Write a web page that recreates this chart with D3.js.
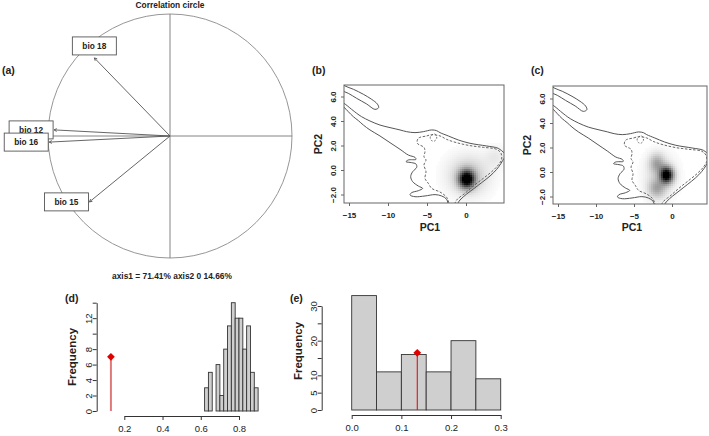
<!DOCTYPE html>
<html><head><meta charset="utf-8">
<script src="https://cdn.jsdelivr.net/npm/d3@7"></script>
<style>
body{margin:0;background:#fff}
svg{display:block}
text{font-family:"Liberation Sans",Arial,sans-serif}
</style>
</head><body><svg id="c" width="709" height="436"></svg>
<script>
// ---------------- DATA ----------------
// (a) correlation circle
const corVars = ["bio 18", "bio 12", "bio 16", "bio 15"];
const corX = [-0.62, -0.95, -0.99, -0.66];
const corY = [0.64, 0.05, -0.05, -0.54];
const corTitle = "Correlation circle";
const corAxisText = "axis1 = 71.41%  axis2 0 14.66%";

// (b),(c) environmental space contours (PC1, PC2)
const outerX = [-16.15,-15.64,-14.66,-14.02,-13.38,-12.31,-11.03,-9.74,-8.46,-7.61,-6.54,-5.47,-4.40,-3.76,-3.33,-2.27,-0.98,0.51,2.65,4.14,4.87,5.3,4.87,4.49,3.93,3.08,2.01,0.94,0.09,-0.77,-1.41,-2.14,-2.48,-3.12,-3.97,-5.26,-6.54,-7.18,-6.97,-6.11,-5.56,-6.11,-6.84,-7.09,-6.84,-6.32,-6.41,-6.97,-7.69,-7.39,-6.41,-6.54,-7.39,-8.46,-9.74,-11.03,-12.31,-13.16,-13.80,-14.44,-15.09,-15.64,-16.15];
const outerY = [5.58,5.44,4.95,4.63,4.35,4.00,3.67,3.46,3.27,3.13,3.05,3.13,3.27,3.21,3.05,2.78,2.45,2.18,1.96,1.77,1.41,1.2,0.95,0.54,0.05,-0.49,-1.03,-1.55,-1.96,-2.45,-2.99,-2.99,-2.39,-2.12,-2.01,-2.12,-2.18,-2.04,-1.85,-1.69,-1.50,-1.31,-0.95,-0.54,-0.14,0.22,0.49,0.60,0.68,0.82,0.87,1.03,1.22,1.69,2.23,2.78,3.27,3.67,4.03,4.35,4.76,5.12,5.30];
const loopX = [-16.3,-15.51,-14.44,-13.16,-12.10,-11.37,-11.20,-11.67,-12.74,-14.02,-15.09,-15.94,-16.3];
const loopY = [7.2,6.86,6.59,6.18,5.77,5.39,5.09,4.95,5.39,5.85,6.26,6.48,6.6];
const innerX = [-6.11,-5.04,-4.40,-3.33,-2.48,-1.20,0.51,2.22,3.93,4.49,4.57,4.14,3.29,2.22,0.94,-0.13,-1.20,-1.63,-1.97,-2.48,-3.33,-4.40,-4.83,-5.26,-5.13,-5.39,-5.13,-5.39,-5.26,-5.39,-6.24];
const innerY = [2.59,2.78,2.88,2.78,2.50,2.23,1.99,1.85,1.69,1.36,0.87,0.41,-0.14,-0.68,-1.31,-1.90,-2.45,-2.99,-2.99,-2.23,-1.80,-1.50,-1.09,-0.68,-0.14,0.41,0.82,1.09,1.50,1.85,2.18];
// small dashed island
const islandX = [-4.55,-4.0,-3.75,-4.1,-4.5];
const islandY = [2.75,2.95,2.6,2.35,2.45];
const pcXTicks = [-15, -10, -5, 0];
const pcYTicks = [-2, 0, 2, 4, 6];
// density kernels (centre x, centre y, spread x, spread y, weight)
const bBlobX = [0.1, 0.3, 3.8];
const bBlobY = [-0.75, -0.45, 1.1];
const bBlobSX = [0.7, 1.8, 0.9];
const bBlobSY = [0.5, 1.1, 0.6];
const bBlobW = [1.05, 0.22, 0.08];
const cBlobX = [-0.7, -2.0, -2.0, -1.5];
const cBlobY = [-0.25, 0.7, -1.35, -0.3];
const cBlobSX = [0.6, 0.7, 0.8, 1.5];
const cBlobSY = [0.45, 0.55, 0.55, 1.2];
const cBlobW = [1.05, 0.3, 0.3, 0.12];

// (d) histogram
const dBreaks = [0.62,0.64,0.66,0.68,0.70,0.72,0.74,0.76,0.78,0.80,0.82,0.84,0.86,0.88,0.90];
const dCounts = [3,5,0,6,2,8,11,14,12,12,8,11,5,3];
const dObs = 0.13, dObsH = 7;
const dXTicks = [0.2, 0.4, 0.6, 0.8];
const dYTicks = [0,2,4,6,8,10,12,14];
const dYLabels = [0,2,4,6,8,12];

// (e) histogram
const eBreaks = [0.00,0.05,0.10,0.15,0.20,0.25,0.30];
const eCounts = [33,11,16,11,20,9];
const eObs = 0.132, eObsH = 16.5;
const eXTicks = [0.0, 0.1, 0.2, 0.3];
const eYTicks = [0,5,10,15,20,25,30];
const eYLabels = [0,5,10,20,30];

const panelLabels = ["(a)","(b)","(c)","(d)","(e)"];

// ---------------- DRAW ----------------
const svg = d3.select("#c");
const narrow = '"Liberation Sans Narrow","Liberation Sans",Arial,sans-serif';

// ---- (a)
const ax = d3.scaleLinear([-1, 1], [48, 292]);
const ay = d3.scaleLinear([-1, 1], [258, 14]);
const gA = svg.append("g");
gA.append("circle").attr("cx", ax(0)).attr("cy", ay(0)).attr("r", ax(1) - ax(0))
  .attr("fill", "none").attr("stroke", "#8a8a8a").attr("stroke-width", 0.9);
gA.append("line").attr("x1", ax(-1)).attr("x2", ax(1)).attr("y1", ay(0)).attr("y2", ay(0))
  .attr("stroke", "#777").attr("stroke-width", 0.9);
gA.append("line").attr("x1", ax(0)).attr("x2", ax(0)).attr("y1", ay(1)).attr("y2", ay(-1))
  .attr("stroke", "#777").attr("stroke-width", 0.9);
corVars.forEach((v, i) => {
  const x0 = ax(0), y0 = ay(0), x1 = ax(corX[i]), y1 = ay(corY[i]);
  gA.append("line").attr("x1", x0).attr("y1", y0).attr("x2", x1).attr("y2", y1)
    .attr("stroke", "#555").attr("stroke-width", 0.9);
  const ang = Math.atan2(y1 - y0, x1 - x0);
  [0.5, -0.5].forEach(a => {
    gA.append("line").attr("x1", x1).attr("y1", y1)
      .attr("x2", x1 - 3 * Math.cos(ang + a)).attr("y2", y1 - 3 * Math.sin(ang + a))
      .attr("stroke", "#555").attr("stroke-width", 0.9);
  });
});
gA.append("text").attr("x", 170).attr("y", 8).attr("text-anchor", "middle")
  .attr("font-size", 8.4).attr("font-weight", "bold").attr("fill", "#222").text(corTitle);
corVars.forEach((v, i) => {
  const tx = ax(corX[i]), ty = ay(corY[i]);
  const g = gA.append("g");
  const rect = g.append("rect");
  const t = g.append("text").attr("font-size", 8.3).attr("font-weight", "bold").attr("fill", "#222")
    .attr("text-anchor", "middle").text(v);
  const tw = t.node().getComputedTextLength();
  const bw = tw + 20, bh = 18;
  let cx, cy;
  if (Math.abs(corX[i]) > Math.abs(corY[i])) {
    cx = corX[i] < 0 ? tx - 1 - bw / 2 : tx + 1 + bw / 2; cy = ty;
  } else {
    cx = tx; cy = corY[i] > 0 ? ty - 3 - bh / 2 : ty + 3 + bh / 2;
  }
  rect.attr("x", cx - bw / 2).attr("y", cy - bh / 2).attr("width", bw).attr("height", bh)
    .attr("fill", "#fff").attr("stroke", "#555").attr("stroke-width", 0.9);
  t.attr("x", cx).attr("y", cy + 3);
});
gA.append("text").attr("x", 172).attr("y", 279).attr("text-anchor", "middle")
  .attr("font-size", 8.4).attr("font-weight", "bold").attr("fill", "#222").text(corAxisText);

// ---- (b),(c)
function pcPanel(id, xs, ys, box, blobs) {
  const g = svg.append("g");
  g.append("clipPath").attr("id", id).append("rect")
    .attr("x", box[0]).attr("y", box[2]).attr("width", box[1] - box[0]).attr("height", box[3] - box[2]);
  const inner = g.append("g").attr("clip-path", `url(#${id})`);
  const grey = d3.scaleLinear([0, 1], [255, 0]).clamp(true);
  const step = 2;
  const cells = [];
  for (let px = box[0]; px < box[1]; px += step) {
    for (let py = box[2]; py < box[3]; py += step) {
      const x = xs.invert(px + step / 2), y = ys.invert(py + step / 2);
      let d = 0;
      blobs.x.forEach((bx, k) => {
        d += blobs.w[k] * Math.exp(-((x - bx) ** 2) / (2 * blobs.sx[k] ** 2) - ((y - blobs.y[k]) ** 2) / (2 * blobs.sy[k] ** 2));
      });
      const gv = Math.round(grey(d));
      if (gv < 252) cells.push([px, py, gv]);
    }
  }
  inner.selectAll("rect.cell").data(cells).join("rect").attr("class", "cell")
    .attr("x", d => d[0]).attr("y", d => d[1]).attr("width", step + 0.3).attr("height", step + 0.3)
    .attr("fill", d => `rgb(${d[2]},${d[2]},${d[2]})`);
  const line = d3.line().x(d => xs(d[0])).y(d => ys(d[1])).curve(d3.curveCatmullRomClosed.alpha(0.5));
  inner.append("path").attr("d", line(outerX.map((v, i) => [v, outerY[i]])))
    .attr("fill", "none").attr("stroke", "#555").attr("stroke-width", 1);
  inner.append("path").attr("d", line(loopX.map((v, i) => [v, loopY[i]])))
    .attr("fill", "none").attr("stroke", "#555").attr("stroke-width", 1);
  inner.append("path").attr("d", line(innerX.map((v, i) => [v, innerY[i]])))
    .attr("fill", "none").attr("stroke", "#555").attr("stroke-width", 0.9).attr("stroke-dasharray", "2.5,1.6");
  inner.append("path").attr("d", line(islandX.map((v, i) => [v, islandY[i]])))
    .attr("fill", "none").attr("stroke", "#555").attr("stroke-width", 0.8).attr("stroke-dasharray", "2,1.5");
  g.append("rect").attr("x", box[0]).attr("y", box[2]).attr("width", box[1] - box[0]).attr("height", box[3] - box[2])
    .attr("fill", "none").attr("stroke", "#666").attr("stroke-width", 1);
  const xa = g.append("g").attr("transform", `translate(0,${box[3]})`)
    .call(d3.axisBottom(xs).tickValues(pcXTicks).tickSize(3).tickSizeOuter(0).tickPadding(6));
  const ya = g.append("g").attr("transform", `translate(${box[0]},0)`)
    .call(d3.axisLeft(ys).tickValues(pcYTicks).tickSize(3).tickSizeOuter(0));
  [xa, ya].forEach(a => { a.select(".domain").remove(); a.selectAll("line").attr("stroke", "#666"); });
  xa.selectAll("text").attr("font-size", 8).attr("font-weight", "bold").attr("fill", "#222").attr("font-family", null);
  ya.selectAll("text").attr("font-size", 8).attr("font-weight", "bold").attr("fill", "#222").attr("font-family", null)
    .attr("x", 0).attr("dy", 0).attr("text-anchor", "middle")
    .attr("transform", "translate(-8,0) rotate(-90)");
  return g;
}
const bx = d3.scaleLinear([-15, 0], [349, 466]);
const by = d3.scaleLinear([0, 2], [170, 145.5]);
pcPanel("clipB", bx, by, [344, 504, 85, 203], {x: bBlobX, y: bBlobY, sx: bBlobSX, sy: bBlobSY, w: bBlobW});
const cxS = d3.scaleLinear([-15, 0], [558, 672]);
const cyS = d3.scaleLinear([0, 2], [172, 147.5]);
pcPanel("clipC", cxS, cyS, [553, 707, 86, 204], {x: cBlobX, y: cBlobY, sx: cBlobSX, sy: cBlobSY, w: cBlobW});
[[430, 231, 322, 144], [632, 231, 531, 145]].forEach(p => {
  svg.append("text").attr("x", p[0]).attr("y", p[1]).attr("text-anchor", "middle")
    .attr("font-size", 10.5).attr("font-weight", "bold").attr("fill", "#222").text("PC1");
  svg.append("text").attr("transform", `translate(${p[2]},${p[3]}) rotate(-90)`).attr("text-anchor", "middle")
    .attr("font-size", 10.5).attr("font-weight", "bold").attr("fill", "#222").text("PC2");
});

// ---- histograms
function histPanel(xs, ys, breaks, counts, xTicks, yTicks, yLabels, xFmt, obs, obsH, axisY, axisX, lineStyle) {
  const g = svg.append("g");
  g.selectAll("rect.bar").data(counts).join("rect").attr("class", "bar")
    .attr("x", (d, i) => xs(breaks[i])).attr("width", (d, i) => xs(breaks[i + 1]) - xs(breaks[i]))
    .attr("y", d => ys(d)).attr("height", d => ys(0) - ys(d))
    .attr("fill", "#cfcfcf").attr("stroke", "#333").attr("stroke-width", 0.9);
  const xa = g.append("g").attr("transform", `translate(0,${axisY})`)
    .call(d3.axisBottom(xs).tickValues(xTicks).tickFormat(d3.format(xFmt)).tickSize(4).tickSizeOuter(0).tickPadding(5));
  const ya = g.append("g").attr("transform", `translate(${axisX},0)`)
    .call(d3.axisLeft(ys).tickValues(yTicks).tickFormat(d => yLabels.includes(d) ? d : "").tickSize(4).tickSizeOuter(0));
  [xa, ya].forEach(a => { a.select(".domain").attr("stroke", "#333"); a.selectAll("line").attr("stroke", "#333"); });
  xa.selectAll("text").attr("font-size", 9.5).attr("font-family", narrow).attr("fill", "#222");
  ya.selectAll("text").attr("font-size", 9.5).attr("font-family", narrow).attr("fill", "#222")
    .attr("x", 0).attr("dy", 0).attr("text-anchor", "middle")
    .attr("transform", "translate(-5,0) rotate(-90)");
  g.append("line").attr("x1", xs(obs)).attr("x2", xs(obs)).attr("y1", ys(0)).attr("y2", ys(obsH))
    .attr("stroke", lineStyle[0]).attr("stroke-width", lineStyle[1]);
  g.append("path").attr("d", d3.symbol(d3.symbolSquare, 30)())
    .attr("transform", `translate(${xs(obs)},${ys(obsH)}) rotate(45)`).attr("fill", "#e00000");
  return g;
}
const dx = d3.scaleLinear([0.2, 0.8], [124.3, 239]);
const dy = d3.scaleLinear([0, 14], [411, 302.7]);
histPanel(dx, dy, dBreaks, dCounts, dXTicks, dYTicks, dYLabels, ".1f", dObs, dObsH, 416, 96.7, ["#e07a7a", 2]);
const ex = d3.scaleLinear([0, 0.3], [351.7, 500.7]);
const ey = d3.scaleLinear([0, 30], [410, 306]);
histPanel(ex, ey, eBreaks, eCounts, eXTicks, eYTicks, eYLabels, ".1f", eObs, eObsH, 415, 321.7, ["#e00000", 1]);
[[76, 357], [302, 351]].forEach(p => {
  svg.append("text").attr("transform", `translate(${p[0]},${p[1]}) rotate(-90)`).attr("text-anchor", "middle")
    .attr("font-size", 11.5).attr("font-weight", "bold").attr("fill", "#222").text("Frequency");
});

// ---- panel labels
const plPos = [[2, 74], [312, 74], [531, 74], [65, 302], [290, 302]];
panelLabels.forEach((l, i) => {
  svg.append("text").attr("x", plPos[i][0]).attr("y", plPos[i][1])
    .attr("font-size", 10.5).attr("font-weight", "bold").attr("fill", "#222").text(l);
});
</script>
</body></html>
